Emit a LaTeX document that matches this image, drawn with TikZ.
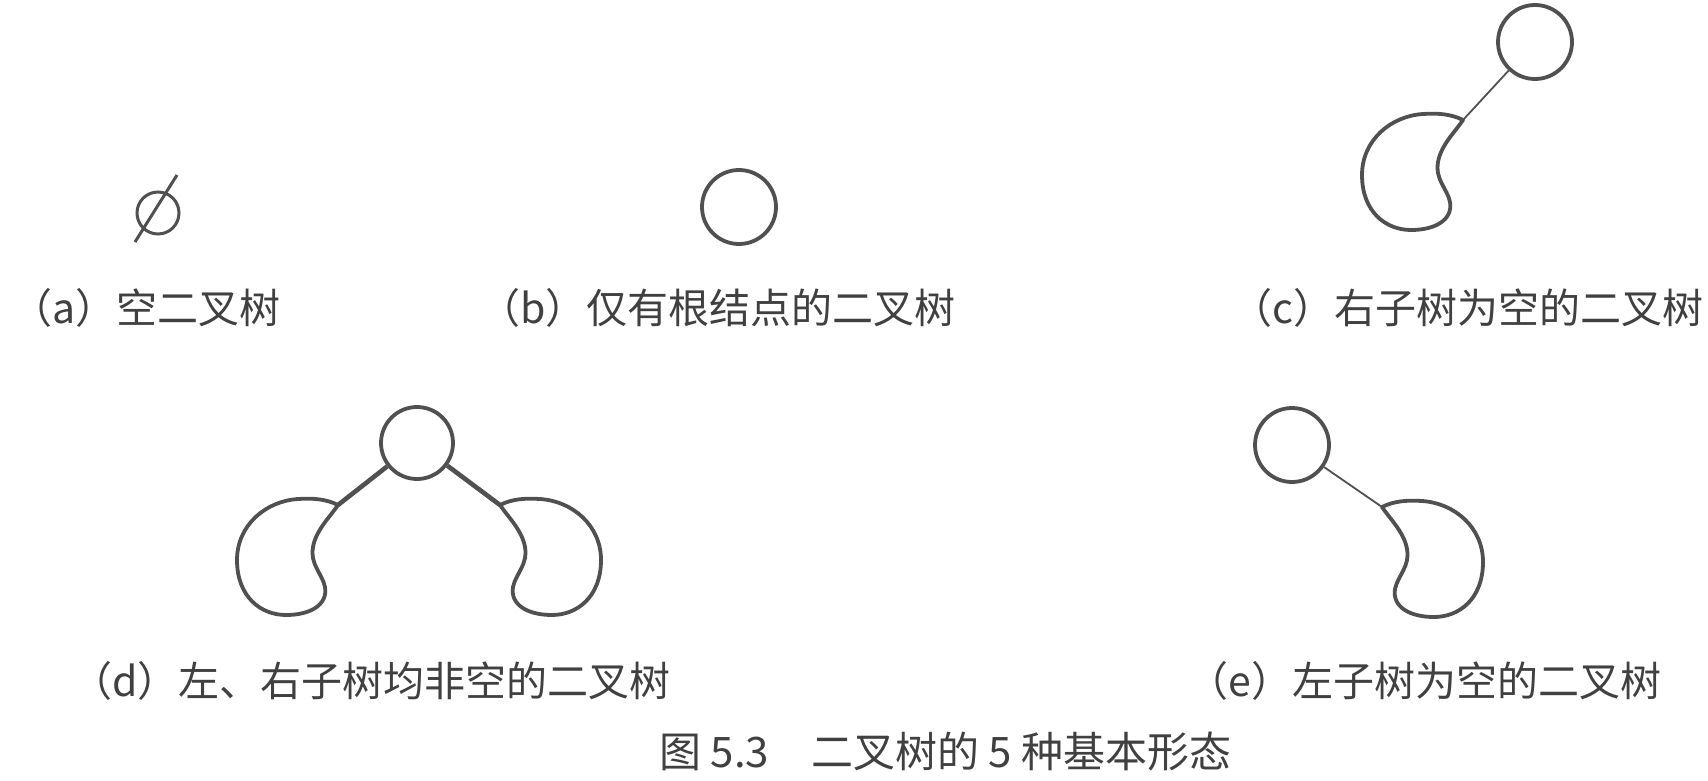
\documentclass[tikz,border=0pt]{standalone}
\usepackage{fontspec}
\newfontfamily\cjk{Noto Sans CJK SC}
\definecolor{inkc}{HTML}{505050}
\definecolor{textc}{HTML}{404040}
\begin{document}
\begin{tikzpicture}[x=0.5pt,y=-0.5pt,
  ink/.style={draw=inkc, line width=1.9pt},
  treenode/.style={circle, ink, minimum size=37pt, inner sep=0pt},
  thinconn/.style={draw=inkc, line width=0.9pt},
  thickconn/.style={draw=inkc, line width=2.3pt},
  lab/.style={anchor=west, inner sep=0pt, text=textc, font=\cjk\fontsize{20.5}{24}\selectfont},
  beanpath/.pic={
    \draw[ink, line join=round] (0,0) .. controls (-12,-6) and (-25,-7) .. (-40,-6)
      .. controls (-72,-4) and (-101,20) .. (-101,55)
      .. controls (-101,92) and (-77,110) .. (-52,110)
      .. controls (-28,110) and (-10,100) .. (-13,82)
      .. controls (-16,68) and (-28,60) .. (-25,42)
      .. controls (-22,25) and (-8,12) .. (0,0) -- cycle;
  }]
\path[use as bounding box] (0,0) rectangle (1708,781);

% (a) empty tree symbol
\node[circle, draw=inkc, line width=1.5pt, minimum width=21pt, minimum height=21pt, inner sep=0pt] (na) at (158,213) {};
\coordinate (a1) at (177,175);
\coordinate (a2) at (135,242);
\draw[draw=inkc, line width=1.5pt] (a1) -- (a2);
\node[lab] (la) at (11,308) {（a）空二叉树};

% (b) root only
\node[treenode] (nb) at (739,207) {};
\node[lab] (lb) at (479,308) {（b）仅有根结点的二叉树};

% (c) right subtree empty
\node[treenode] (nc) at (1535,42) {};
\coordinate (jc) at (1463,120);
\pic at (jc) {beanpath};
\draw[thinconn] (nc) -- (jc);
\node[lab] (lc) at (1231,308) {（c）右子树为空的二叉树};

% (d) both subtrees nonempty
\node[treenode, minimum size=36pt] (nd) at (417,443) {};
\coordinate (jd1) at (338,505);
\coordinate (jd2) at (500,505);
\pic at (jd1) {beanpath};
\pic[xscale=-1] at (jd2) {beanpath};
\draw[thickconn] (nd) -- (jd1);
\draw[thickconn] (nd) -- (jd2);
\node[lab] (ld) at (71,681) {（d）左、右子树均非空的二叉树};

% (e) left subtree empty
\node[treenode] (ne) at (1292,445) {};
\coordinate (je) at (1382,507);
\pic[xscale=-1] at (je) {beanpath};
\draw[thinconn] (ne) -- (je);
\node[lab] (le) at (1187,681) {（e）左子树为空的二叉树};

% caption
\node[lab, font=\cjk\fontsize{21}{24}\selectfont] (cap) at (659,752) {图 5.3\quad 二叉树的 5 种基本形态};
\end{tikzpicture}
\end{document}
